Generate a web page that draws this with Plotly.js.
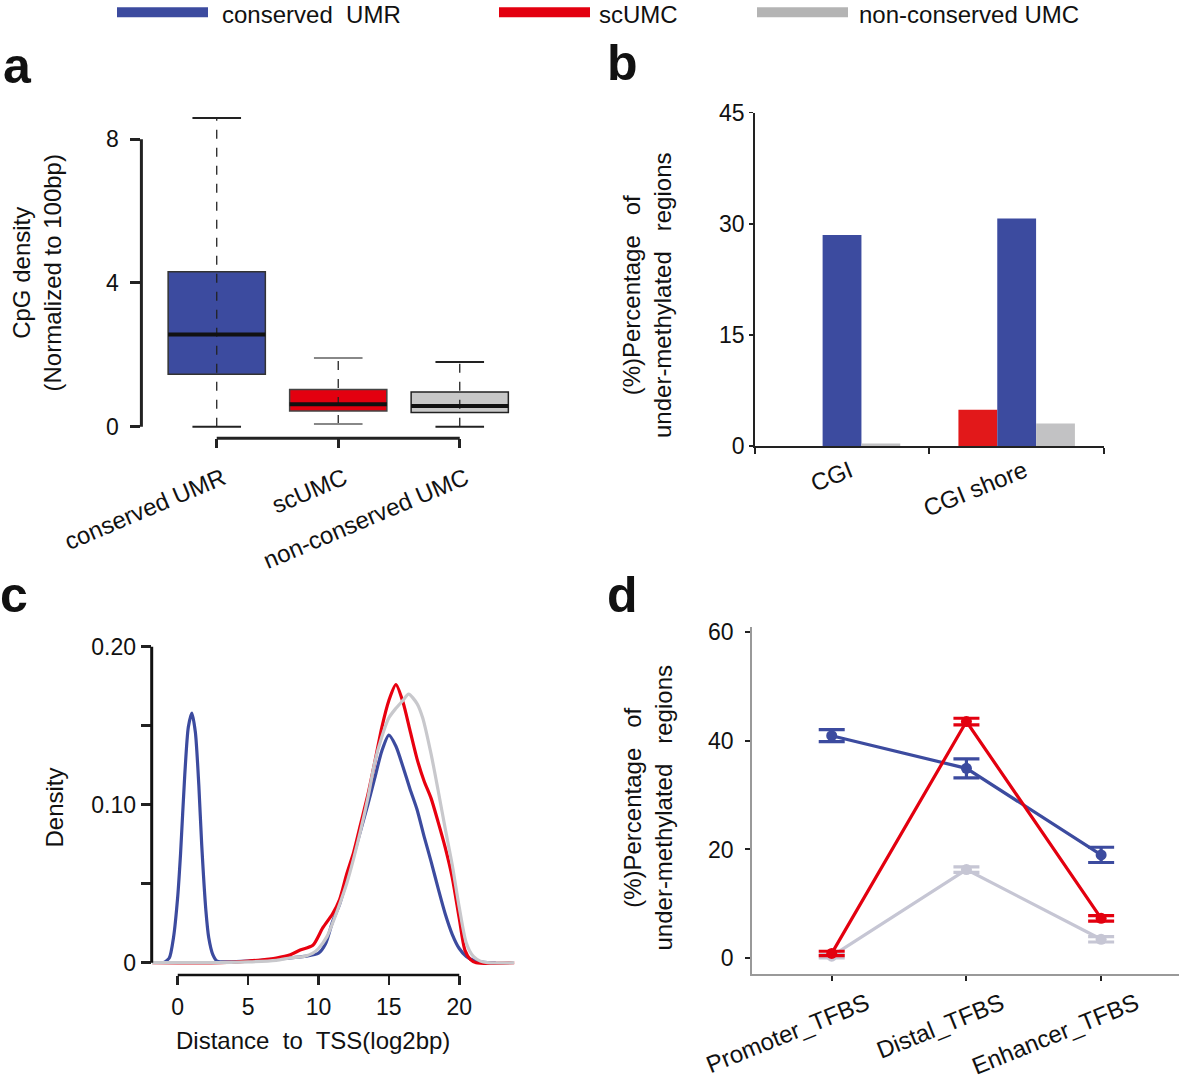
<!DOCTYPE html>
<html><head><meta charset="utf-8">
<script src="https://cdn.plot.ly/plotly-3.0.1.min.js"></script>
<style>html,body{margin:0;padding:0;background:#fff;} #chart{width:1179px;height:1084px;}</style>
</head><body><div id="chart"></div>
<script>
// ---------------- data ----------------
const groups = ['conserved UMR', 'scUMC', 'non-conserved UMC'];
const groupColors = ['#3c4b9f', '#e3000f', '#c8c8c8'];

// panel a: CpG density (box statistics)
const boxLower  = [0.00, 0.08, 0.00];
const boxQ1     = [1.46, 0.44, 0.40];
const boxMedian = [2.57, 0.63, 0.58];
const boxQ3     = [4.31, 1.04, 0.97];
const boxUpper  = [8.59, 1.91, 1.80];
const aTicks = [0, 4, 8];

// panel b: CGI / CGI shore
const cgiCategories = ['CGI', 'CGI shore'];
const cgiScUMC = [0.0, 4.9];
const cgiConservedUMR = [28.5, 30.7];
const cgiNonConservedUMC = [0.35, 3.05];
const bTicks = [0, 15, 30, 45];

// panel c: density of distance to TSS (log2 bp)
const distX_conserved = [-1.0, -0.6, -0.3, 0.0, 0.2, 0.5, 0.75, 1.0, 1.25, 1.5, 1.7, 2.0, 2.2, 2.5, 2.8, 3.5, 5, 6.5, 8, 9, 10, 10.5, 11, 11.5, 12, 12.5, 13, 13.5, 14, 14.5, 15, 15.5, 16, 16.5, 17, 17.5, 18, 18.5, 19, 19.5, 20, 20.5, 21, 21.5, 22, 22.6];
const distY_conserved = [0, 0.003, 0.016, 0.042, 0.069, 0.119, 0.149, 0.158, 0.146, 0.112, 0.075, 0.033, 0.016, 0.005, 0.001, 0.0005, 0.001, 0.002, 0.003, 0.004, 0.006, 0.012, 0.026, 0.037, 0.052, 0.068, 0.084, 0.100, 0.117, 0.134, 0.144, 0.137, 0.124, 0.110, 0.097, 0.080, 0.064, 0.047, 0.031, 0.018, 0.009, 0.004, 0.0015, 0.0005, 0, 0];
const distX_scUMC = [-1.8, 3, 5, 7, 8, 8.7, 9.6, 10.3, 11, 11.5, 12, 12.5, 13, 13.5, 14, 14.5, 15, 15.5, 16, 16.5, 17, 17.5, 18, 18.5, 19, 19.5, 20, 20.4, 20.8, 21.2, 23.9];
const distY_scUMC = [0, 0, 0.001, 0.003, 0.005, 0.008, 0.011, 0.022, 0.031, 0.040, 0.056, 0.070, 0.088, 0.106, 0.127, 0.149, 0.166, 0.176, 0.165, 0.147, 0.129, 0.115, 0.104, 0.089, 0.073, 0.054, 0.028, 0.008, 0.002, 0, 0];
const distX_nonConserved = [-1.85, 2, 5, 7, 8, 9, 9.6, 10, 10.6, 11, 11.5, 12, 12.5, 13, 13.5, 14, 14.5, 15, 15.5, 16, 16.4, 17, 17.4, 18, 18.5, 19, 19.5, 20, 20.5, 21, 21.5, 22, 23.9];
const distY_nonConserved = [0, 0, 0.0005, 0.0015, 0.003, 0.004, 0.006, 0.009, 0.0165, 0.025, 0.037, 0.050, 0.066, 0.084, 0.104, 0.127, 0.143, 0.155, 0.161, 0.166, 0.170, 0.164, 0.155, 0.132, 0.109, 0.085, 0.062, 0.035, 0.0125, 0.004, 0.001, 0, 0];
const cXTicks = [0, 5, 10, 15, 20];
const cYTicks = [0, 0.05, 0.10, 0.15, 0.20];
const cYTickText = ['0', '', '0.10', '', '0.20'];

// panel d: TFBS
const tfbsCategories = ['Promoter_TFBS', 'Distal_TFBS', 'Enhancer_TFBS'];
const tfbsConservedUMR = [40.9, 34.9, 19.0];
const tfbsConservedUMRErr = [1.1, 1.75, 1.4];
const tfbsScUMC = [0.9, 43.5, 7.35];
const tfbsScUMCErr = [0.4, 0.6, 0.5];
const tfbsNonConservedUMC = [0.4, 16.3, 3.5];
const tfbsNonConservedUMCErr = [0.3, 0.5, 0.5];
const dTicks = [0, 20, 40, 60];

// ---------------- helpers ----------------
const W = 1179, H = 1084;
const px = v => v / W;
const py = v => 1 - v / H;
const FONT = 'Liberation Sans, Arial, Helvetica, sans-serif';
const INK = '#111';
const BLUE = '#3c4b9f', RED = '#e3000f', GRAY = '#c8c8c8';

const traces = [];

// panel a
const capColors = ['#222', '#888', '#222'];
const borderColors = ['#333', '#444', '#222'];
groups.forEach((g, i) => {
  traces.push({type: 'scatter', mode: 'lines', x: [i, i], y: [boxLower[i], boxUpper[i]],
    line: {color: '#222', width: 1.3, dash: 'dash'}, xaxis: 'x', yaxis: 'y', hoverinfo: 'skip'});
  traces.push({type: 'scatter', mode: 'lines',
    x: [i - 0.2, i + 0.2, null, i - 0.2, i + 0.2],
    y: [boxLower[i], boxLower[i], null, boxUpper[i], boxUpper[i]],
    line: {color: capColors[i], width: 2}, xaxis: 'x', yaxis: 'y', hoverinfo: 'skip'});
  traces.push({type: 'box', name: g, x: [i], q1: [boxQ1[i]], median: [boxMedian[i]], q3: [boxQ3[i]],
    lowerfence: [boxQ1[i]], upperfence: [boxQ3[i]], width: 0.8, boxpoints: false,
    fillcolor: groupColors[i], line: {color: borderColors[i], width: 1.5}, xaxis: 'x', yaxis: 'y'});
  traces.push({type: 'scatter', mode: 'lines', x: [i - 0.4, i + 0.4], y: [boxMedian[i], boxMedian[i]],
    line: {color: '#111', width: 4}, xaxis: 'x', yaxis: 'y', hoverinfo: 'skip'});
});

// panel b
traces.push({type: 'bar', name: 'scUMC', x: cgiCategories, y: cgiScUMC, marker: {color: '#e2181a'}, xaxis: 'x2', yaxis: 'y2'});
traces.push({type: 'bar', name: 'conserved UMR', x: cgiCategories, y: cgiConservedUMR, marker: {color: BLUE}, xaxis: 'x2', yaxis: 'y2'});
traces.push({type: 'bar', name: 'non-conserved UMC', x: cgiCategories, y: cgiNonConservedUMC, marker: {color: '#c2c2c4'}, xaxis: 'x2', yaxis: 'y2'});

// panel c
const cLine = {shape: 'spline', smoothing: 0.7, width: 3.2};
traces.push({type: 'scatter', mode: 'lines', name: 'conserved UMR', x: distX_conserved, y: distY_conserved,
  line: Object.assign({color: BLUE}, cLine), xaxis: 'x3', yaxis: 'y3'});
traces.push({type: 'scatter', mode: 'lines', name: 'scUMC', x: distX_scUMC, y: distY_scUMC,
  line: Object.assign({color: '#e8000f'}, cLine), xaxis: 'x3', yaxis: 'y3'});
traces.push({type: 'scatter', mode: 'lines', name: 'non-conserved UMC', x: distX_nonConserved, y: distY_nonConserved,
  line: Object.assign({color: '#c8c8cc'}, cLine), xaxis: 'x3', yaxis: 'y3'});

// panel d
function dTrace(name, y, err, color) {
  return {type: 'scatter', mode: 'lines+markers', name, x: tfbsCategories, y,
    line: {color, width: 3.2}, marker: {color, size: 11},
    error_y: {type: 'data', array: err, visible: true, color, thickness: 3.2, width: 13},
    xaxis: 'x4', yaxis: 'y4'};
}
traces.push(dTrace('non-conserved UMC', tfbsNonConservedUMC, tfbsNonConservedUMCErr, '#c6c6d4'));
traces.push(dTrace('conserved UMR', tfbsConservedUMR, tfbsConservedUMRErr, BLUE));
traces.push(dTrace('scUMC', tfbsScUMC, tfbsScUMCErr, RED));

// ---------------- layout ----------------
const tickFont = {family: FONT, size: 23, color: INK};
const catFont = {family: FONT, size: 24, color: INK};
const baseAx = {showgrid: false, zeroline: false, fixedrange: true, tickfont: tickFont};

const layout = {
  width: W, height: H, margin: {l: 0, r: 0, t: 0, b: 0},
  paper_bgcolor: '#fff', plot_bgcolor: 'rgba(0,0,0,0)', showlegend: false,
  font: {family: FONT, color: INK},
  barmode: 'group', bargap: 0.333, bargroupgap: 0,
  xaxis: Object.assign({}, baseAx, {domain: [px(141.4), px(520.5)], range: [-0.62, 2.5], anchor: 'y',
    tickvals: [0, 1, 2], ticktext: groups, tickangle: -23, tickfont: catFont,
    ticks: 'outside', ticklen: 9, tickwidth: 3, tickcolor: '#222', showline: false,
    ticklabelshift: 6, ticklabelstandoff: 7}),
  yaxis: Object.assign({}, baseAx, {domain: [py(438.3), py(110)], range: [-0.32, 8.81], anchor: 'x',
    tickvals: aTicks, ticks: 'outside', ticklen: 10, tickwidth: 3, tickcolor: '#222', showline: false,
    ticklabelstandoff: 7}),
  xaxis2: Object.assign({}, baseAx, {domain: [px(754.7), px(1104)], range: [-0.5, 1.5], anchor: 'y2', type: 'category',
    tickson: 'boundaries', ticks: 'outside', ticklen: 6, tickwidth: 2, tickcolor: '#222',
    showline: true, linewidth: 2, linecolor: '#222', tickangle: -22, tickfont: catFont, ticklabelshift: 8}),
  yaxis2: Object.assign({}, baseAx, {domain: [py(446), py(112.7)], range: [0, 45], anchor: 'x2',
    tickvals: bTicks, ticks: 'outside', ticklen: 4, tickwidth: 1.5, tickcolor: '#222',
    showline: true, linewidth: 1.5, linecolor: '#222'}),
  xaxis3: Object.assign({}, baseAx, {domain: [px(151.7), px(515)], range: [-1.85, 23.96], anchor: 'y3',
    tickvals: cXTicks, ticks: 'outside', ticklen: 9, tickwidth: 2.5, tickcolor: '#222', showline: false,
    ticklabelstandoff: 2}),
  yaxis3: Object.assign({}, baseAx, {domain: [py(975), py(640)], range: [-0.00778, 0.20424], anchor: 'x3',
    tickvals: cYTicks, ticktext: cYTickText, ticks: 'outside', ticklen: 10, tickwidth: 2.5, tickcolor: '#222', showline: false}),
  xaxis4: Object.assign({}, baseAx, {domain: [px(751.7), 1], range: [-0.594, 2.578], anchor: 'y4', type: 'category',
    ticks: 'outside', ticklen: 5, tickwidth: 2, tickcolor: '#222', showline: true, linewidth: 1.5, linecolor: '#999',
    tickangle: -22, tickfont: catFont, ticklabelshift: 35}),
  yaxis4: Object.assign({}, baseAx, {domain: [py(974), py(626.7)], range: [-2.88, 60.92], anchor: 'x4',
    tickvals: dTicks, ticks: 'outside', ticklen: 5, tickwidth: 2, tickcolor: '#222',
    showline: true, linewidth: 1.5, linecolor: '#999', ticklabelstandoff: 7}),
  shapes: [
    // R-style axis lines spanning first..last tick
    {type: 'line', xref: 'x domain', x0: 0, x1: 0, yref: 'y', y0: aTicks[0], y1: aTicks[aTicks.length - 1], line: {color: '#222', width: 3}},
    {type: 'line', xref: 'x', x0: 0, x1: groups.length - 1, yref: 'y domain', y0: 0, y1: 0, line: {color: '#222', width: 3}},
    {type: 'line', xref: 'x3 domain', x0: 0, x1: 0, yref: 'y3', y0: cYTicks[0], y1: cYTicks[cYTicks.length - 1], line: {color: '#111', width: 3}},
    {type: 'line', xref: 'x3', x0: cXTicks[0], x1: cXTicks[cXTicks.length - 1], yref: 'y3 domain', y0: 0, y1: 0, line: {color: '#111', width: 2.5}},
    // legend swatches
    {type: 'line', xref: 'paper', yref: 'paper', x0: px(117), x1: px(208), y0: py(12.3), y1: py(12.3), line: {color: BLUE, width: 10}},
    {type: 'line', xref: 'paper', yref: 'paper', x0: px(499), x1: px(590), y0: py(12.3), y1: py(12.3), line: {color: RED, width: 10}},
    {type: 'line', xref: 'paper', yref: 'paper', x0: px(757), x1: px(848), y0: py(12.3), y1: py(12.3), line: {color: '#b4b4b4', width: 10}}
  ],
  annotations: [
    // legend labels
    {xref: 'paper', yref: 'paper', x: px(221), y: 1, xanchor: 'left', yanchor: 'top', borderpad: 0, showarrow: false, text: 'conserved\u00a0 UMR', font: {family: FONT, size: 24, color: INK}},
    {xref: 'paper', yref: 'paper', x: px(598), y: 1, xanchor: 'left', yanchor: 'top', borderpad: 0, showarrow: false, text: 'scUMC', font: {family: FONT, size: 24, color: INK}},
    {xref: 'paper', yref: 'paper', x: px(858), y: 1, xanchor: 'left', yanchor: 'top', borderpad: 0, showarrow: false, text: 'non-conserved UMC', font: {family: FONT, size: 24, color: INK}},
    // panel letters
    {xref: 'paper', yref: 'paper', x: px(1), y: py(66), xanchor: 'left', yanchor: 'middle', showarrow: false, text: '<b>a</b>', font: {family: FONT, size: 50, color: '#111'}},
    {xref: 'paper', yref: 'paper', x: px(605), y: py(63), xanchor: 'left', yanchor: 'middle', showarrow: false, text: '<b>b</b>', font: {family: FONT, size: 50, color: '#111'}},
    {xref: 'paper', yref: 'paper', x: px(-2), y: py(595), xanchor: 'left', yanchor: 'middle', showarrow: false, text: '<b>c</b>', font: {family: FONT, size: 50, color: '#111'}},
    {xref: 'paper', yref: 'paper', x: px(605), y: py(595), xanchor: 'left', yanchor: 'middle', showarrow: false, text: '<b>d</b>', font: {family: FONT, size: 50, color: '#111'}},
    // axis titles
    {xref: 'paper', yref: 'paper', x: px(36.5), y: py(273), xanchor: 'center', yanchor: 'middle', textangle: -90, showarrow: false,
      text: 'CpG density<br>(Normalized to 100bp)', font: {family: FONT, size: 24, color: INK}},
    {xref: 'paper', yref: 'paper', x: px(647), y: py(295), xanchor: 'center', yanchor: 'middle', textangle: -90, showarrow: false,
      text: '(%)Percentage\u00a0\u00a0 of<br>under-methylated\u00a0\u00a0 regions', font: {family: FONT, size: 24, color: INK}},
    {xref: 'paper', yref: 'paper', x: px(54), y: py(807.5), xanchor: 'center', yanchor: 'middle', textangle: -90, showarrow: false,
      text: 'Density', font: {family: FONT, size: 24, color: INK}},
    {xref: 'paper', yref: 'paper', x: px(313), y: py(1040), xanchor: 'center', yanchor: 'middle', showarrow: false,
      text: 'Distance\u00a0 to\u00a0 TSS(log2bp)', font: {family: FONT, size: 24, color: INK}},
    {xref: 'paper', yref: 'paper', x: px(647), y: py(807.5), xanchor: 'center', yanchor: 'middle', textangle: -90, showarrow: false,
      text: '(%)Percentage\u00a0\u00a0 of<br>under-methylated\u00a0\u00a0 regions', font: {family: FONT, size: 24, color: INK}}
  ]
};

Plotly.newPlot('chart', traces, layout, {staticPlot: true, displayModeBar: false});
</script>
</body></html>
